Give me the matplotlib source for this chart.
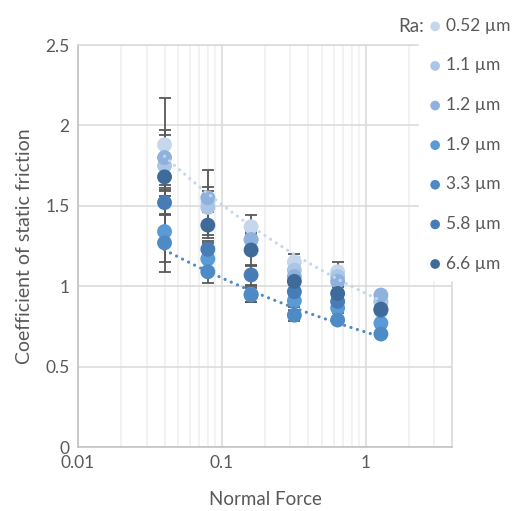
import numpy as np
import matplotlib
matplotlib.use("Agg")
import matplotlib.pyplot as plt

plt.rcParams['font.family'] = ['Lato', 'DejaVu Sans']

# Normal force levels (log-spaced)
force = [0.04, 0.08, 0.16, 0.32, 0.64, 1.28]

# Mean coefficient of static friction per surface roughness
mu_052 = [1.88, 1.52, 1.37, 1.15, 1.09, 0.91]
mu_11 = [1.75, 1.49, 1.29, 1.10, 1.06, 0.90]
mu_12 = [1.80, 1.55, 1.29, 1.06, 1.03, 0.945]
mu_19 = [1.34, 1.17, 0.95, 0.91, 0.865, 0.77]
mu_33 = [1.27, 1.09, 0.945, 0.82, 0.79, 0.703]
mu_58 = [1.52, 1.23, 1.07, 0.966, 0.905, 0.85]
mu_66 = [1.68, 1.38, 1.225, 1.03, 0.955, 0.858]

# Standard deviations
err_052 = [0.29, 0.20, 0.07, 0.05, 0.06, 0.03]
err_11 = [0.19, 0.10, 0.06, 0.04, 0.04, 0.03]
err_12 = [0.17, 0.065, 0.05, 0.04, 0.03, 0.02]
err_19 = [0.19, 0.10, 0.05, 0.04, 0.03, 0.02]
err_33 = [0.18, 0.07, 0.045, 0.035, 0.02, 0.02]
err_58 = [0.08, 0.05, 0.06, 0.04, 0.03, 0.02]
err_66 = [0.07, 0.08, 0.10, 0.05, 0.04, 0.03]

labels = ['0.52 µm', '1.1 µm', '1.2 µm', '1.9 µm', '3.3 µm', '5.8 µm', '6.6 µm']
colors = ['#c5d7ed', '#abc5e7', '#8eb1de', '#5b9bd5', '#4e8bc6', '#477cb6', '#3f6b9b']
means = [mu_052, mu_11, mu_12, mu_19, mu_33, mu_58, mu_66]
errs = [err_052, err_11, err_12, err_19, err_33, err_58, err_66]

fig = plt.figure(figsize=(5.22, 5.11), dpi=100)
ax = fig.add_axes([0.1494, 0.1252, 0.7166, 0.7867])

handles = []
for mu, err, col, lab in zip(means, errs, colors, labels):
    ax.errorbar(force, mu, yerr=err, fmt='none', ecolor='#595959',
                elinewidth=1.3, capsize=4, capthick=1.3, zorder=3)
    h = ax.scatter(force, mu, s=115, color=col, edgecolors='none', zorder=4, label=lab)
    handles.append(h)

# Power-law trendlines for the smoothest and 3.3 µm surfaces
for mu, col in [(mu_052, colors[0]), (mu_33, colors[4])]:
    b, ln_a = np.polyfit(np.log(force), np.log(mu), 1)
    xs = np.logspace(np.log10(force[0]), np.log10(force[-1]), 100)
    ax.plot(xs, np.exp(ln_a) * xs ** b, color=col, lw=2.3,
            linestyle=(0, (0.01, 2.1)), dash_capstyle='round', zorder=5)

ax.set_xscale('log')
ax.set_xlim(0.01, 4)
ax.set_ylim(0, 2.5)
ax.set_yticks([0, 0.5, 1, 1.5, 2, 2.5])
ax.set_yticklabels(['0', '0.5', '1', '1.5', '2', '2.5'])
ax.set_xticks([0.01, 0.1, 1])
ax.set_xticklabels(['0.01', '0.1', '1'])

ax.grid(True, which='major', color='#d9d9d9', lw=1.1, zorder=0)
ax.grid(True, which='minor', axis='x', color='#efefef', lw=1.1, zorder=0)
ax.set_axisbelow(True)
ax.tick_params(which='both', length=0, labelsize=12.5, colors='#595959', pad=6)
for side in ['top', 'right']:
    ax.spines[side].set_color('#d9d9d9')
for side in ['left', 'bottom']:
    ax.spines[side].set_color('#bfbfbf')
for sp in ax.spines.values():
    sp.set_linewidth(1.1)

ax.set_xlabel('Normal Force', fontsize=13.5, color='#595959', labelpad=14)
ax.set_ylabel('Coefficient of static friction', fontsize=14, color='#595959', labelpad=9)

leg = fig.legend(handles=handles, loc='upper left', bbox_to_anchor=(0.802, 0.982),
                 fontsize=12.5, labelcolor='#595959', markerscale=0.65,
                 handletextpad=0.2, handlelength=0.9, labelspacing=1.36,
                 borderpad=0.5, borderaxespad=0, frameon=True, fancybox=False,
                 framealpha=1, edgecolor='white', facecolor='white')
leg.set_zorder(10)
fig.text(0.762, 0.949, 'Ra:', fontsize=13.5, color='#595959', ha='left',
         va='center', zorder=11)

fig.savefig('out.png', dpi=100)
